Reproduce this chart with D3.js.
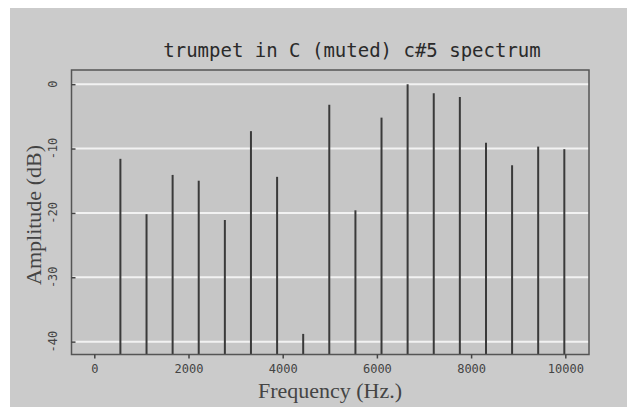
<!DOCTYPE html>
<html>
<head>
<meta charset="utf-8">
<script src="https://cdn.jsdelivr.net/npm/d3@7"></script>
<style>
  html, body { margin: 0; padding: 0; background: #ffffff; }
  svg { display: block; }
</style>
</head>
<body>
<div id="chart"></div>
<script>
// Harmonics of c#5 (Hz) and their amplitudes (dB)
const freqs = [554, 1109, 1663, 2217, 2772, 3326, 3881, 4435, 4989,
               5544, 6098, 6652, 7207, 7761, 8316, 8870, 9424, 9979];
const amps = [-11.6, -20.2, -14.1, -15.0, -21.1, -7.3, -14.4, -38.8, -3.2,
              -19.6, -5.2, 0, -1.4, -2.0, -9.1, -12.6, -9.7, -10.1];
const xTicks = [0, 2000, 4000, 6000, 8000, 10000];
const yTicks = [0, -10, -20, -30, -40];

const width = 638, height = 407;
const plot = {left: 71.5, right: 589, top: 70, bottom: 354.5};

const svg = d3.select('#chart').append('svg')
    .attr('width', width)
    .attr('height', height);

// scanned-page gray background
svg.append('rect')
    .attr('x', 10).attr('y', 8)
    .attr('width', 617).attr('height', 399)
    .attr('fill', '#cbcbcb');

const x = d3.scaleLinear().domain([-484, 10503]).range([plot.left, plot.right]);
const y = d3.scaleLinear().domain([-42, 2.2]).range([plot.bottom, plot.top]);

// plot area
svg.append('rect')
    .attr('x', plot.left).attr('y', plot.top)
    .attr('width', plot.right - plot.left)
    .attr('height', plot.bottom - plot.top)
    .attr('fill', '#c6c6c6');

// white grid lines
svg.selectAll('.grid')
    .data(yTicks)
    .enter().append('line')
    .attr('class', 'grid')
    .attr('x1', plot.left).attr('x2', plot.right)
    .attr('y1', d => y(d)).attr('y2', d => y(d))
    .attr('stroke', '#f2f2f2')
    .attr('stroke-width', 2);

// spectrum lines
svg.selectAll('.bar')
    .data(freqs)
    .enter().append('line')
    .attr('class', 'bar')
    .attr('x1', d => x(d)).attr('x2', d => x(d))
    .attr('y1', plot.bottom)
    .attr('y2', (d, i) => y(amps[i]))
    .attr('stroke', '#3a3a3a')
    .attr('stroke-width', 2);

// frame
svg.append('rect')
    .attr('x', plot.left).attr('y', plot.top)
    .attr('width', plot.right - plot.left)
    .attr('height', plot.bottom - plot.top)
    .attr('fill', 'none')
    .attr('stroke', '#555')
    .attr('stroke-width', 1.5);

// x axis
const xAxis = svg.append('g')
    .attr('transform', `translate(0,${plot.bottom})`)
    .call(d3.axisBottom(x).tickValues(xTicks).tickSize(4).tickPadding(6).tickFormat(d3.format('d')));
xAxis.select('.domain').remove();
xAxis.selectAll('line').attr('stroke', '#444').attr('stroke-width', 1.5);
xAxis.selectAll('text')
    .attr('fill', '#444')
    .attr('font-family', 'DejaVu Sans Mono, monospace')
    .attr('font-size', '12px');

// y axis: inner ticks, rotated labels
const yAxis = svg.append('g')
    .attr('transform', `translate(${plot.left},0)`)
    .call(d3.axisRight(y).tickValues(yTicks).tickSize(4).tickFormat(''));
yAxis.select('.domain').remove();
yAxis.selectAll('line').attr('stroke', '#444').attr('stroke-width', 1.5);

svg.selectAll('.ylab')
    .data(yTicks)
    .enter().append('text')
    .attr('class', 'ylab')
    .attr('transform', d => `translate(53,${y(d)}) rotate(-90)`)
    .attr('text-anchor', 'middle')
    .attr('dominant-baseline', 'central')
    .attr('fill', '#444')
    .attr('font-family', 'DejaVu Sans Mono, monospace')
    .attr('font-size', '12px')
    .text(d => d);

// title
svg.append('text')
    .attr('x', 352).attr('y', 57)
    .attr('text-anchor', 'middle')
    .attr('fill', '#2a2a2a')
    .attr('font-family', 'DejaVu Sans Mono, monospace')
    .attr('font-size', '19px')
    .text('trumpet in C (muted) c#5 spectrum');

// axis titles
svg.append('text')
    .attr('x', 330).attr('y', 398)
    .attr('text-anchor', 'middle')
    .attr('fill', '#444')
    .attr('font-family', 'Liberation Serif, serif')
    .attr('font-size', '22px')
    .text('Frequency (Hz.)');

svg.append('text')
    .attr('transform', 'translate(33,215) rotate(-90)')
    .attr('text-anchor', 'middle')
    .attr('dominant-baseline', 'central')
    .attr('fill', '#444')
    .attr('font-family', 'Liberation Serif, serif')
    .attr('font-size', '22px')
    .text('Amplitude (dB)');
</script>
</body>
</html>
